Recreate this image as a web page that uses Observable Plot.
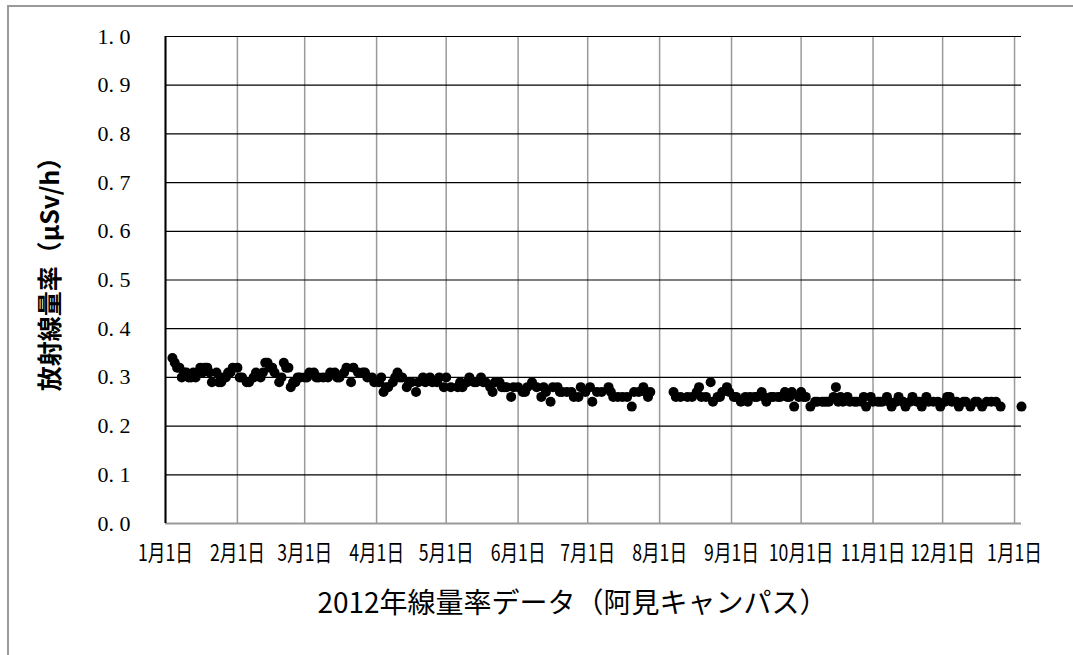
<!DOCTYPE html>
<html><head><meta charset="utf-8">
<script src="https://cdn.jsdelivr.net/npm/d3@7"></script>
<script src="https://cdn.jsdelivr.net/npm/@observablehq/plot@0.6"></script>
<style>
html,body{margin:0;padding:0;background:#fff;overflow:hidden;width:1073px;height:655px;}
#frame{position:absolute;left:7px;top:5px;width:1090px;height:720px;border:2px solid #9a9a9a;box-sizing:border-box;}
#chart{position:absolute;left:0;top:0;color:#000;}
</style></head><body>
<div id="frame"></div>
<div id="chart"></div>
<script>
// day index counted from 2012-01-01 (0 = Jan 1), one line per month
const days = [
  3,4,5,6,7,8,9,10,11,12,13,15,16,17,18,19,20,22,23,24,25,26,27,28,29,
  31,32,33,35,36,38,39,41,42,43,44,45,46,47,49,50,51,52,53,54,55,56,57,58,
  60,61,62,64,65,66,68,70,71,73,74,75,77,78,80,81,83,85,86,87,89,90,
  92,93,94,95,96,98,99,100,101,102,104,105,106,108,109,111,112,114,115,117,118,120,
  121,123,126,127,128,130,131,133,134,136,137,138,140,141,142,144,145,146,147,149,150,
  152,154,155,156,158,160,162,163,164,166,167,169,170,171,173,175,176,178,179,181,
  183,184,186,188,191,192,193,195,197,199,201,202,204,206,207,208,209,
  219,220,222,225,227,229,230,231,233,235,236,238,239,240,242,243,
  245,246,248,250,251,252,254,255,257,258,259,261,262,264,265,267,268,269,270,271,273,
  274,275,276,278,280,281,283,284,285,286,288,289,290,291,292,294,295,297,298,300,301,302,304,
  305,307,308,309,311,312,313,315,316,318,319,321,322,324,325,326,328,329,331,333,334,
  336,337,338,339,341,342,344,345,347,349,350,352,354,356,358,360,369];
const values = [
  .34,.33,.32,.32,.30,.31,.31,.30,.30,.31,.30,.32,.31,.32,.32,.31,.29,.31,.29,.29,.30,.30,.31,.31,.32,
  .32,.30,.30,.29,.29,.30,.31,.30,.31,.33,.33,.32,.32,.31,.29,.30,.33,.32,.32,.28,.29,.29,.30,.30,
  .30,.30,.31,.31,.30,.30,.30,.30,.31,.31,.30,.30,.31,.32,.29,.32,.31,.31,.31,.30,.30,.29,
  .29,.30,.27,.28,.28,.29,.30,.31,.30,.30,.28,.29,.29,.27,.29,.30,.29,.30,.29,.29,.30,.28,
  .30,.28,.28,.29,.28,.29,.30,.29,.29,.30,.29,.29,.28,.27,.29,.29,.28,.28,.28,.26,.28,
  .28,.27,.27,.28,.29,.28,.26,.28,.27,.25,.28,.28,.27,.27,.27,.27,.26,.26,.28,.27,
  .28,.25,.27,.27,.28,.27,.26,.26,.26,.26,.24,.27,.27,.28,.27,.26,.27,
  .27,.26,.26,.26,.26,.27,.28,.26,.26,.29,.25,.26,.26,.27,.28,.27,
  .26,.26,.25,.26,.25,.26,.26,.26,.27,.26,.25,.26,.26,.26,.26,.27,.26,.26,.27,.24,.26,
  .27,.26,.26,.24,.25,.25,.25,.25,.25,.25,.26,.28,.25,.26,.25,.26,.25,.25,.25,.25,.26,.24,.26,
  .25,.25,.25,.25,.26,.25,.24,.25,.26,.25,.24,.25,.26,.25,.25,.24,.26,.25,.25,.25,.24,
  .25,.26,.26,.25,.25,.24,.25,.25,.24,.25,.25,.24,.25,.25,.25,.24,.24];
const monthTicks = ["2012-01-01","2012-02-01","2012-03-01","2012-04-01","2012-05-01","2012-06-01","2012-07-01",
  "2012-08-01","2012-09-01","2012-10-01","2012-11-01","2012-12-01","2013-01-01"];
const yTicks = [0,0.1,0.2,0.3,0.4,0.5,0.6,0.7,0.8,0.9,1.0];
const yTitle = "放射線量率（μSv/h）";
const xTitle = "2012年線量率データ（阿見キャンパス）";

const start = Date.UTC(2012,0,1);
const dayMs = 86400000;
const data = days.map((d,i)=>({date:new Date(start + d*dayMs), value:values[i]}));
const mTicks = monthTicks.map(s=>new Date(s+"T00:00:00Z"));

const chart = Plot.plot({
  width:1073, height:655,
  marginLeft:165, marginRight:52, marginTop:36, marginBottom:132,
  style:{background:"transparent", color:"#000"},
  x:{type:"utc", domain:[new Date(start), new Date(start+369*dayMs)]},
  y:{domain:[0,1]},
  marks:[
    Plot.gridX(mTicks, {stroke:"#9a9a9a", strokeOpacity:1, strokeWidth:1.5}),
    Plot.gridY(yTicks.filter(d=>d>0), {stroke:"#000", strokeOpacity:1, strokeWidth:1.2}),
    Plot.ruleY([0], {stroke:"#9a9a9a", strokeWidth:2}),
    Plot.ruleX([mTicks[0]], {stroke:"#000", strokeWidth:2}),
    Plot.dot(data, {x:"date", y:"value", r:5, fill:"#000", stroke:null}),
    Plot.axisY(yTicks, {tickSize:0, tickPadding:35, tickFormat:d=>d.toFixed(1).replace(".", ". "), fontFamily:"Liberation Serif", fontSize:22, label:null}),
    Plot.axisX(mTicks, {tickSize:0, tickPadding:21, tickFormat:d=>`${d.getUTCMonth()+1}月1日`, fontFamily:"Noto Sans CJK JP", fontSize:21, label:null}),
    Plot.text([yTitle], {frameAnchor:"left", textAnchor:"middle", dx:-115, dy:-12, rotate:-90, fontSize:25, fontWeight:"bold", fontFamily:"Noto Sans CJK JP"}),
    Plot.text([xTitle], {frameAnchor:"bottom", dx:-21, dy:89, fontSize:28, fontFamily:"Noto Sans CJK JP"})
  ]
});
document.getElementById("chart").appendChild(chart);
// condense x tick labels like the reference's narrow font
d3.select(chart).selectAll('g[aria-label="x-axis tick label"] text').each(function(){
  const t = this.getAttribute("transform") || "";
  this.setAttribute("transform", t + " scale(0.84,1.1)");
});
</script>
</body></html>
